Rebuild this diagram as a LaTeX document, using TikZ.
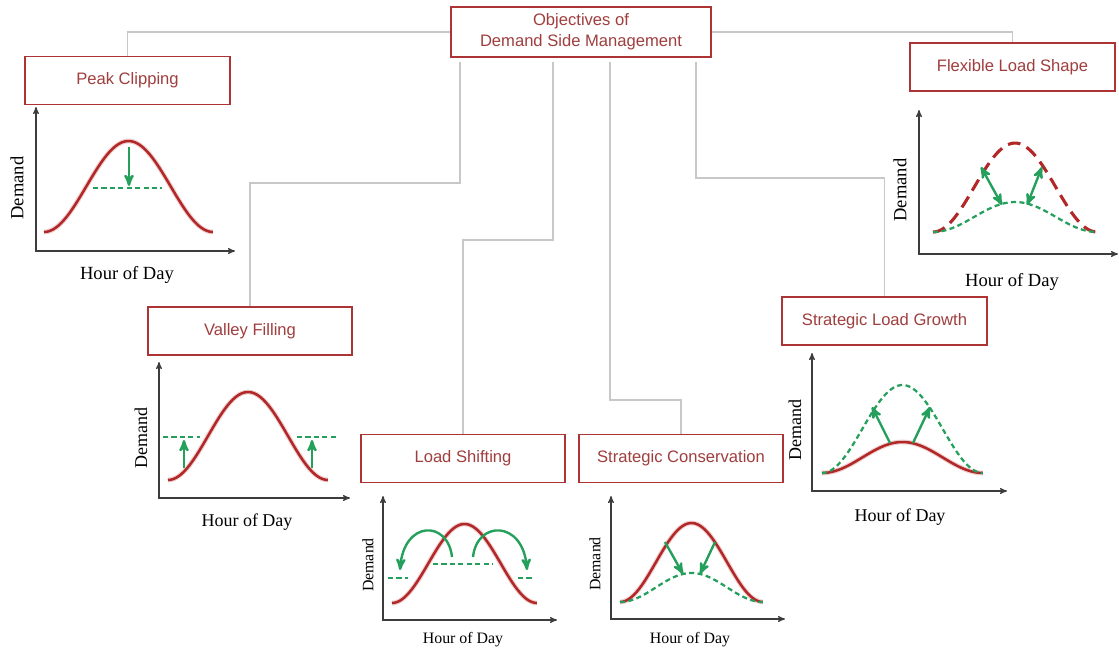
\documentclass[tikz,border=0pt]{standalone}
\usepackage{fontspec}
\setmainfont{Liberation Serif}
\newfontfamily\boxfont{Liberation Sans}
\usetikzlibrary{calc}
\usetikzlibrary{arrows}
\usepackage{xcolor}
\definecolor{boxred}{RGB}{172,52,52}
\definecolor{boxtext}{RGB}{160,62,62}
\definecolor{curvered}{RGB}{178,40,40}
\definecolor{dsmgreen}{RGB}{36,160,92}
\definecolor{linkgray}{RGB}{200,200,200}
\definecolor{axisgray}{RGB}{60,60,60}

\begin{document}
\begin{tikzpicture}[x=.025cm, y=-.025cm,
 objbox/.style={draw=boxred, line width=1.4pt, fill=white, minimum width=5.12cm, minimum height=1.2cm,
   font=\boxfont\fontsize{11.8}{15}\selectfont, text=boxtext, align=center},
 link/.style={draw=linkgray, line width=1.3pt},
 chartaxis/.style={draw=axisgray, line width=.8pt, <->, >=stealth'},
 loadcurve/.style={curvered, line width=1.8pt, preaction={draw=curvered!22, line width=3.4pt}},
 newload/.style={dsmgreen, line width=1.6pt, dash pattern=on 3.6pt off 2.4pt},
 shiftarrow/.style={dsmgreen, line width=1.7pt, ->, >=stealth'},
 xlab/.style={font=\fontsize{#1}{16}\selectfont}, xlab/.default=13.2,
 ylab/.style={rotate=90, font=\fontsize{#1}{16}\selectfont}, ylab/.default=13.2]
\useasboundingbox (0,0) rectangle (1119,652);

% boxes
\node[objbox, minimum width=6.5cm, minimum height=1.25cm] (title) at (581,32) {Objectives of\\Demand Side Management};
\node[objbox] (peak) at (127.5,80.5) {Peak Clipping};
\node[objbox] (valley) at (250,331) {Valley Filling};
\node[objbox] (shift) at (463,458.5) {Load Shifting};
\node[objbox] (cons) at (681,458.5) {Strategic Conservation};
\node[objbox] (growth) at (884.5,321) {Strategic Load Growth};
\node[objbox] (flex) at (1012.5,67) {Flexible Load Shape};

% links
\coordinate (b1) at (460,183);
\coordinate (b2) at (553,240);
\coordinate (b3) at (610,400);
\coordinate (b4) at (696,178);
\draw[link] (title.west) -| (peak.north);
\draw[link] (title.east) -| (flex.north);
\draw[link] ([yshift=-3pt]title.south -| b1) -- (b1) -| (valley.north);
\draw[link] ([yshift=-3pt]title.south -| b2) -- (b2) -| (shift.north);
\draw[link] ([yshift=-3pt]title.south -| b3) -- (b3) -| (cons.north);
\draw[link] ([yshift=-3pt]title.south -| b4) -- (b4) -| (growth.north);

% axes
\foreach \x/\y/\top/\xend in {36/251/107/235, 159/498/362/350, 383/620/496/557, 611/619/496/785, 812/491/353/1007, 919/254/110/1118} {
 \draw[chartaxis] (\x,\top) -- (\x,\y) -- (\xend,\y);
}
\node[ylab] (dpeak) at (17,188) {Demand};
\node[xlab] (hpeak) at (127,275) {Hour of Day};
\node[ylab=12.8] (dvalley) at (141,438) {Demand};
\node[xlab=12.8] (hvalley) at (247,522) {Hour of Day};
\node[ylab=11.3] (dshift) at (368,565) {Demand};
\node[xlab=11.3] (hshift) at (463,640) {Hour of Day};
\node[ylab=11.3] (dcons) at (595,564) {Demand};
\node[xlab=11.3] (hcons) at (690,640) {Hour of Day};
\node[ylab=12.8] (dgrowth) at (795,430) {Demand};
\node[xlab=12.8] (hgrowth) at (900,517) {Hour of Day};
\node[ylab] (dflex) at (900,190) {Demand};
\node[xlab] (hflex) at (1012,282) {Hour of Day};

% load curves
\foreach \a/\b/\ya/\yb in {44/213/232/141, 168/328/480/392, 392/537/603/524, 620/763/602/523, 822/983/473/442} {
 \draw[loadcurve, samples=60, domain=0:1, smooth, variable=\t] plot ({\a+(\b-\a)*\t},{\ya-(\ya-\yb)*(1-cos(360*\t))/2});
}
\draw[curvered, line width=2.2pt, dash pattern=on 9pt off 5pt, samples=60, domain=0:1, smooth, variable=\t]
 plot ({933+164*\t},{232-89*(1-cos(360*\t))/2});
\foreach \a/\b/\ya/\yb in {620/763/602/573, 822/983/473/385, 933/1097/232/202} {
 \draw[newload, samples=60, domain=0:1, smooth, variable=\t] plot ({\a+(\b-\a)*\t},{\ya-(\ya-\yb)*(1-cos(360*\t))/2});
}

% peak clipping
\draw[newload] (93,188) -- (162,188);
\draw[shiftarrow] (129,147) -- (129,186);
% valley filling
\draw[newload] (163,437) -- (200,437);
\draw[newload] (297,437) -- (337,437);
\draw[shiftarrow] (184,468) -- (184,440);
\draw[shiftarrow] (312,468) -- (312,440);
% load shifting
\draw[newload] (433,564) -- (493,564);
\draw[newload] (388,578) -- (408,578);
\draw[newload] (518,578) -- (533,578);
\draw[shiftarrow] (452,557) .. controls (448,520) and (404,520) .. (400,570);
\draw[shiftarrow] (473,557) .. controls (477,520) and (523,520) .. (527,570);
% strategic conservation
\draw[shiftarrow] (665,542) -- (683,574);
\draw[shiftarrow] (715,542) -- (700,574);
% strategic load growth
\draw[shiftarrow] (890,443) -- (872,407);
\draw[shiftarrow] (913,443) -- (930,407);
% flexible load shape
\draw[shiftarrow, <->] (981,167) -- (1002,205);
\draw[shiftarrow, <->] (1042,167) -- (1027,205);
\end{tikzpicture}
\end{document}
